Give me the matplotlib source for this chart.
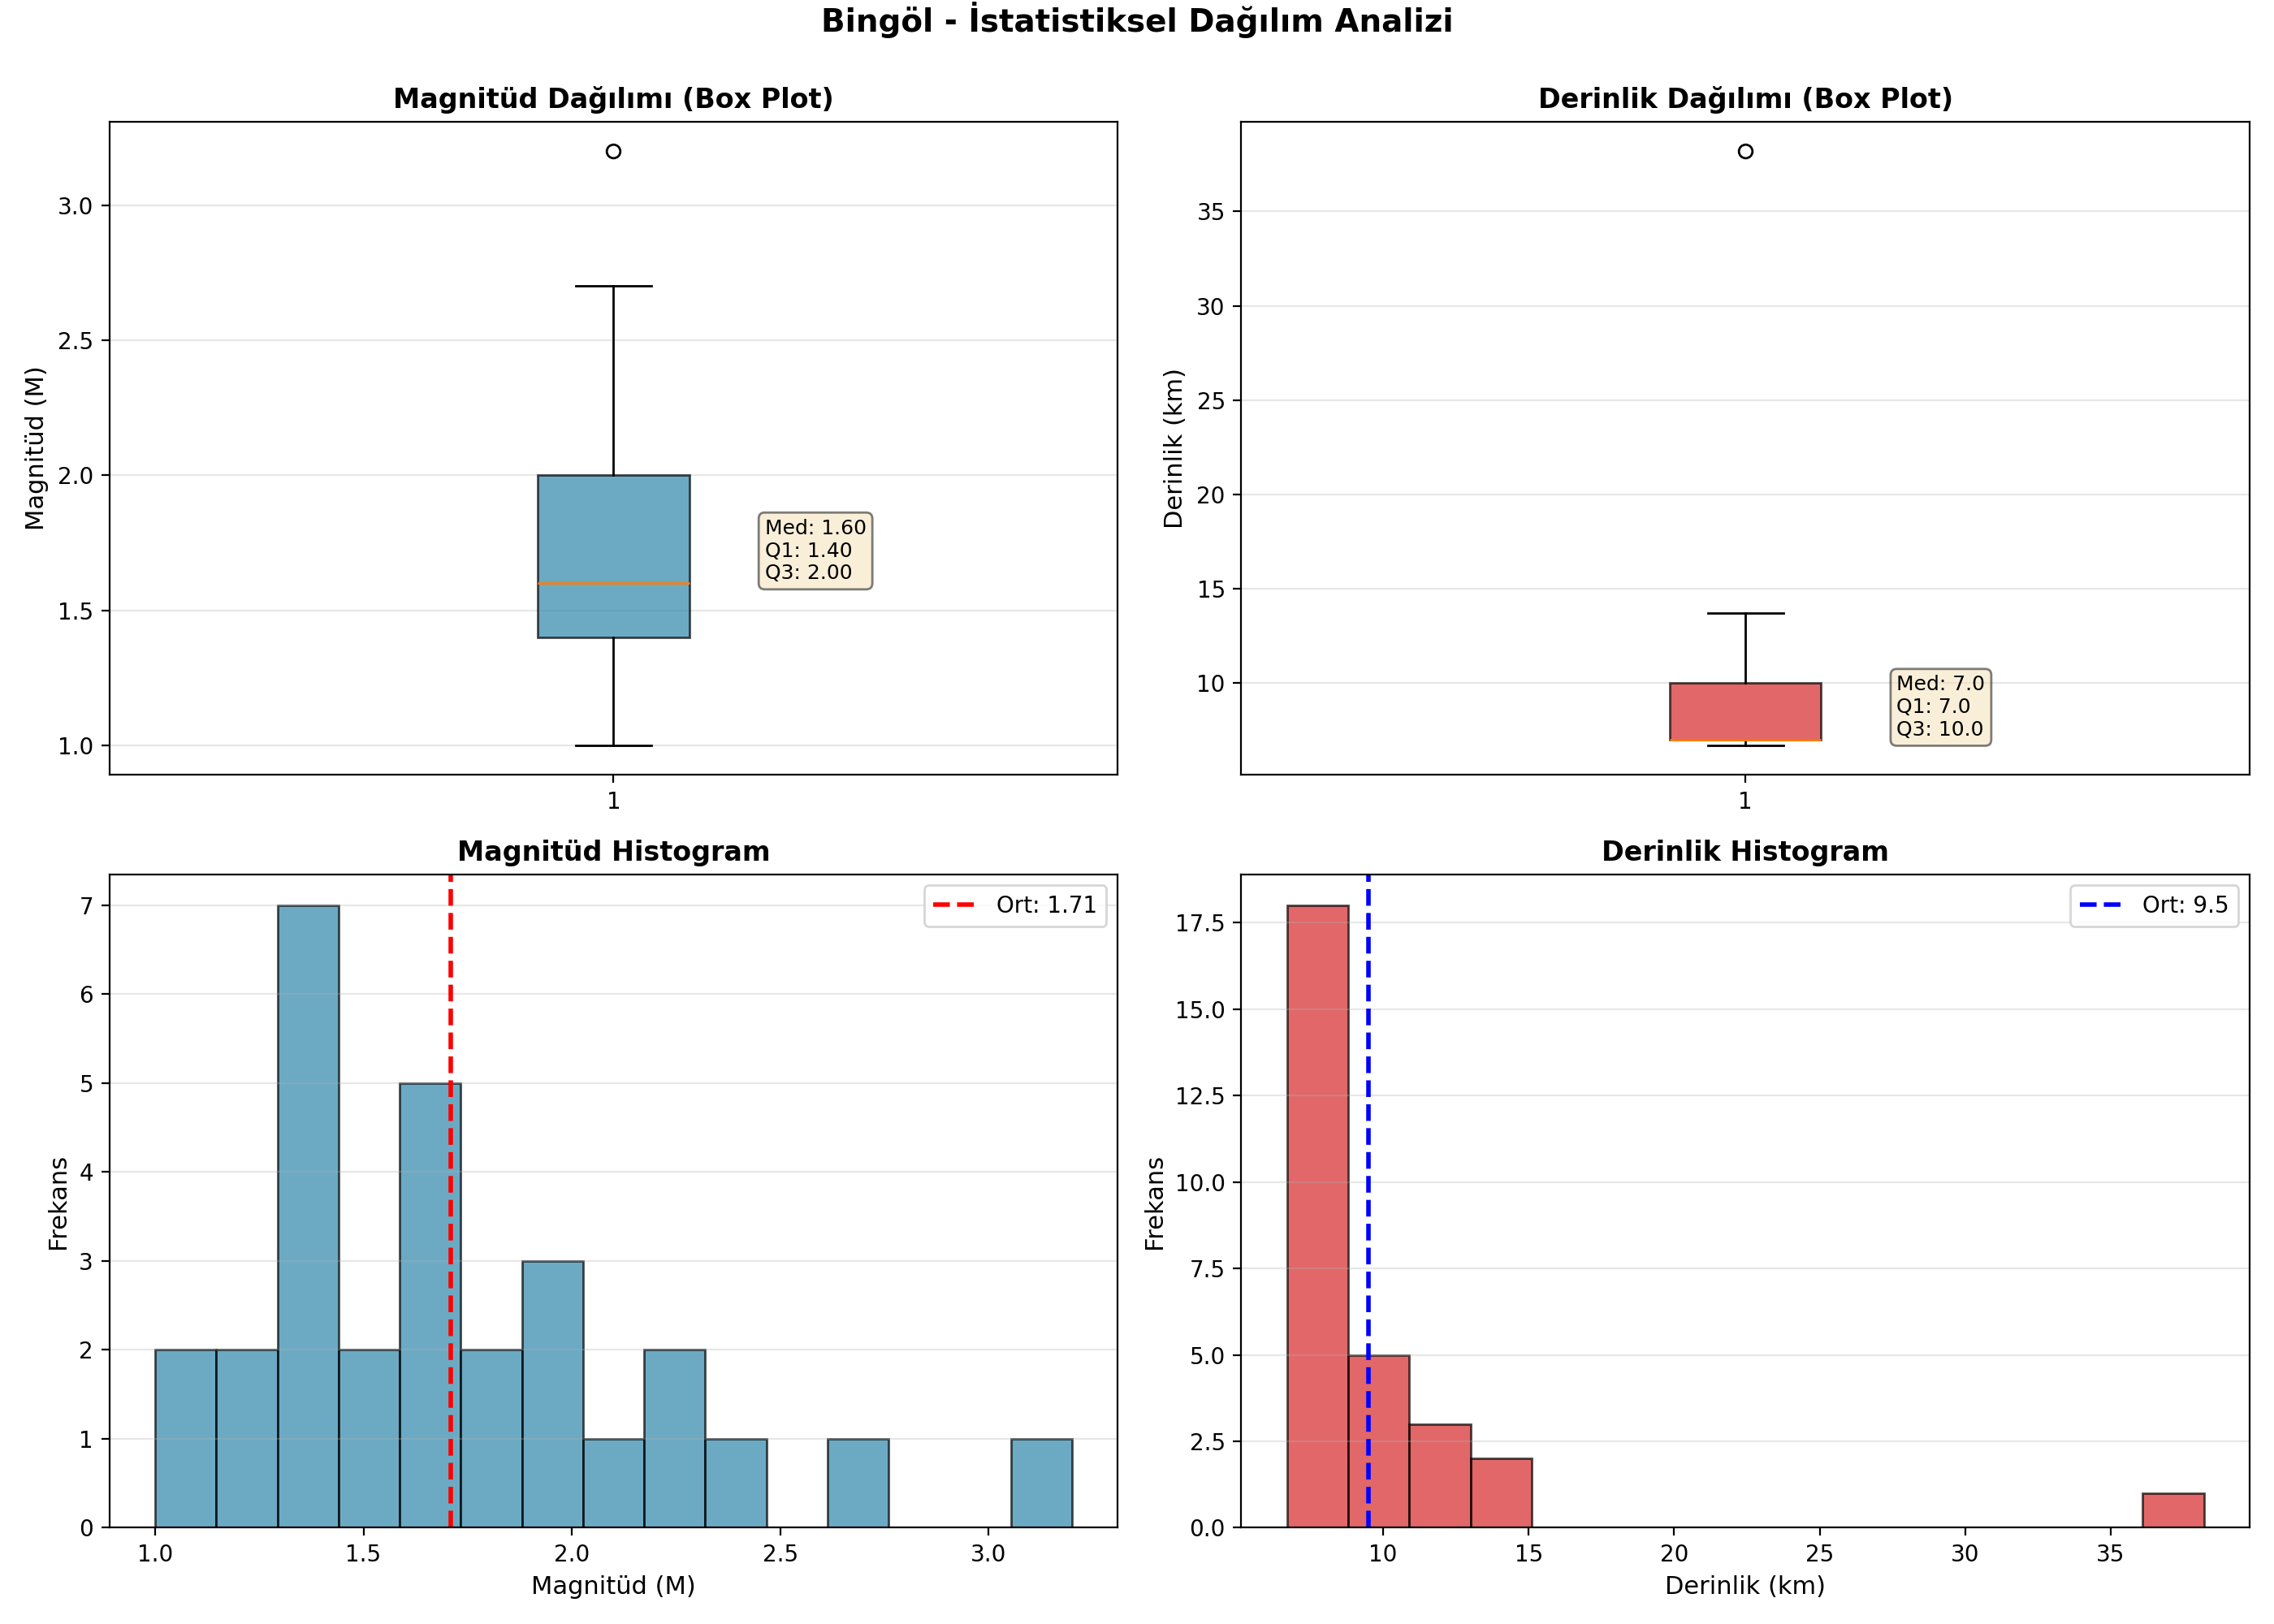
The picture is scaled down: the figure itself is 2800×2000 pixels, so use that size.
import numpy as np
import matplotlib
matplotlib.use('Agg')
import matplotlib.pyplot as plt

# Bingöl deprem verileri (29 kayıt)
magnitudes = [1.0, 1.1, 1.2, 1.2, 1.3, 1.3, 1.3, 1.4, 1.4, 1.4, 1.4,
              1.5, 1.5, 1.6, 1.6, 1.6, 1.7, 1.7, 1.8, 1.8, 1.9, 2.0, 2.0,
              2.1, 2.2, 2.3, 2.4, 2.7, 3.2]
depths = [6.7, 7.0, 7.0, 7.0, 7.0, 7.0, 7.0, 7.0, 7.0, 7.0, 7.0, 7.0,
          7.0, 7.0, 7.0, 7.0, 7.0, 7.0, 9.0, 9.5, 10.0, 10.0, 10.5,
          11.2, 11.9, 12.6, 13.2, 13.7, 38.2]

city = 'Bingöl'
mag_color = '#2E86AB'
dep_color = '#D62728'


def box_with_stats(ax, values, color, ylabel, title, fmt):
    bp = ax.boxplot(values, patch_artist=True)
    for box in bp['boxes']:
        box.set_facecolor(color)
        box.set_alpha(0.7)
    med = np.median(values)
    q1 = np.percentile(values, 25)
    q3 = np.percentile(values, 75)
    txt = f'Med: {med:{fmt}}\nQ1: {q1:{fmt}}\nQ3: {q3:{fmt}}'
    ax.text(1.15, med, txt, fontsize=9, ha='left', va='bottom',
            bbox=dict(boxstyle='round', facecolor='wheat', alpha=0.5))
    ax.set_ylabel(ylabel, fontsize=11)
    ax.set_title(title, fontsize=12, fontweight='bold')
    ax.grid(True, axis='y', alpha=0.3)


def hist_with_mean(ax, values, color, line_color, xlabel, title, fmt):
    ax.hist(values, bins=15, color=color, alpha=0.7, edgecolor='black')
    mean = np.mean(values)
    ax.axvline(mean, color=line_color, linestyle='--', linewidth=2,
               label=f'Ort: {mean:{fmt}}')
    ax.set_xlabel(xlabel, fontsize=11)
    ax.set_ylabel('Frekans', fontsize=11)
    ax.set_title(title, fontsize=12, fontweight='bold')
    ax.legend()
    ax.grid(True, axis='y', alpha=0.3)


fig, axes = plt.subplots(2, 2, figsize=(14, 10))

box_with_stats(axes[0, 0], magnitudes, mag_color, 'Magnitüd (M)',
               'Magnitüd Dağılımı (Box Plot)', '.2f')
box_with_stats(axes[0, 1], depths, dep_color, 'Derinlik (km)',
               'Derinlik Dağılımı (Box Plot)', '.1f')
hist_with_mean(axes[1, 0], magnitudes, mag_color, 'red', 'Magnitüd (M)',
               'Magnitüd Histogram', '.2f')
hist_with_mean(axes[1, 1], depths, dep_color, 'blue', 'Derinlik (km)',
               'Derinlik Histogram', '.1f')

sup = fig.suptitle(f'{city} - İstatistiksel Dağılım Analizi', fontsize=14, fontweight='bold')
plt.tight_layout()
sup.set_y(0.999)
plt.savefig('out.png', dpi=200)
